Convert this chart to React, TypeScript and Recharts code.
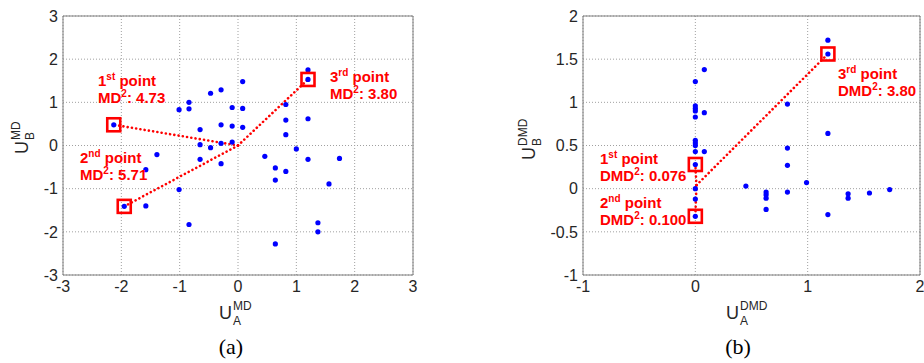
import React from 'react'
import {
  CartesianGrid,
  ReferenceArea,
  ReferenceLine,
  Scatter,
  ScatterChart,
  XAxis,
  YAxis,
} from 'recharts'

// (a) MD scores
const mdA = [
  -2.13, -1.01, -0.84, -0.84, -0.47, -0.29, -0.65, -0.29, -0.65, -0.47, -0.29, -0.65, -0.29, -1.39,
  -1.58, 0.08, -0.1, 0.08, -0.1, 0.08, -0.1, 0.82, 0.82, 0.82, 1.2, 1.2, 1.2, 1.0, 0.46, 1.2, 1.74,
  0.64, 0.82, 0.64, 1.56, 1.37, 1.37, 0.64, -1.01, -1.95, -1.58, -0.84,
]
const mdB = [
  0.48, 0.83, 1.0, 0.85, 1.21, 1.29, 0.37, 0.48, 0.02, -0.05, 0.05, -0.32, -0.42, -0.21, -0.56, 1.48,
  0.88, 0.86, 0.45, 0.42, 0.08, 0.95, 0.59, 0.25, 0.62, 1.75, 1.53, -0.08, -0.25, -0.32, -0.3, -0.52,
  -0.6, -0.8, -0.89, -1.79, -2.0, -2.28, -1.02, -1.41, -1.4, -1.83,
]
const mdPicked = [0, 39, 26]
const mdCentre = { x: 0, y: 0 }
const mdScores = ['4.73', '5.71', '3.80']
const mdTicks = [-3, -2, -1, 0, 1, 2, 3]

// (b) DMD scores
const dmdA = [
  0, 0.08, 0, 0, 0, 0, 0.08, 0, 0, 0, 0, 0.08, 0, 0.82, 0.82, 0.82, 1.18, 1.18, 1.18, 0, 0, 0, 0.45,
  0.63, 0.63, 0.63, 0.63, 0.82, 0.99, 1.18, 1.36, 1.36, 1.55, 1.73,
]
const dmdB = [
  1.24, 1.38, 0.96, 0.93, 0.9, 0.83, 0.88, 0.56, 0.53, 0.5, 0.43, 0.43, 0.28, 0.98, 0.47, 0.27, 1.72,
  1.56, 0.64, 0.0, -0.12, -0.32, 0.03, -0.04, -0.07, -0.11, -0.24, -0.04, 0.07, -0.3, -0.06, -0.11,
  -0.05, -0.01,
]
const dmdPicked = [12, 21, 17]
const dmdCentre = { x: 0.01, y: 0.04 }
const dmdScores = ['0.076', '0.100', '3.80']
const dmdXTicks = [-1, 0, 1, 2]
const dmdYTicks = [-1, -0.5, 0, 0.5, 1, 1.5, 2]

const ordinals = [
  ['1', 'st'],
  ['2', 'nd'],
  ['3', 'rd'],
]

const SANS = '"Liberation Sans", Arial, sans-serif'
const RED = '#ff0000'

const toPoints = (a: number[], b: number[]) => a.map((x, i) => ({ x, y: b[i] }))

const Dot = (p: any) => <circle cx={p.cx} cy={p.cy} r={2.6} fill="#0000ff" />
const Box = (p: any) => (
  <rect x={p.cx - 6.5} y={p.cy - 6.5} width={13} height={13} fill="none" stroke={RED} strokeWidth={2.6} />
)

interface PanelProps {
  left: number
  width: number
  yWidth: number
  rightGap: number
  a: number[]
  b: number[]
  picked: number[]
  centre: { x: number; y: number }
  xTicks: number[]
  yTicks: number[]
}

function Panel({ left, width, yWidth, rightGap, a, b, picked, centre, xTicks, yTicks }: PanelProps) {
  const pts = toPoints(a, b)
  const hi = picked.map((i) => pts[i])
  const xd: [number, number] = [xTicks[0], xTicks[xTicks.length - 1]]
  const yd: [number, number] = [yTicks[0], yTicks[yTicks.length - 1]]
  const tick = { fontSize: 16, fill: '#262626', fontFamily: SANS }
  return (
    <div style={{ position: 'absolute', left, top: 0 }}>
      <ScatterChart width={width} height={363} margin={{ top: 16, right: rightGap, bottom: 58, left: 0 }}>
        <CartesianGrid stroke="#a0a0a0" strokeDasharray="1 2" />
        <XAxis
          type="number"
          dataKey="x"
          domain={xd}
          ticks={xTicks}
          allowDataOverflow
          height={30}
          tick={tick}
          tickSize={0}
          tickMargin={6}
          axisLine={false}
          tickLine={false}
        />
        <YAxis
          type="number"
          dataKey="y"
          domain={yd}
          ticks={yTicks}
          allowDataOverflow
          width={yWidth}
          tick={tick}
          tickSize={0}
          tickMargin={5}
          axisLine={false}
          tickLine={false}
        />
        <ReferenceArea x1={xd[0]} x2={xd[1]} y1={yd[0]} y2={yd[1]} fill="none" stroke="#7f7f7f" strokeWidth={1} />
        <Scatter data={pts} shape={Dot} isAnimationActive={false} />
        {hi.map((p, i) => (
          <ReferenceLine
            key={i}
            segment={[centre, p]}
            stroke={RED}
            strokeWidth={2.6}
            strokeDasharray="0.1 4.2"
            strokeLinecap="round"
          />
        ))}
        <Scatter data={hi} shape={Box} isAnimationActive={false} />
      </ScatterChart>
    </div>
  )
}

function Note({ x, y, n, name, score }: { x: number; y: number; n: string[]; name: string; score: string }) {
  return (
    <text fill={RED} fontWeight="bold" fontSize={15} fontFamily={SANS}>
      <tspan x={x} y={y}>{n[0]}</tspan>
      <tspan dy={-6} fontSize={10}>{n[1]}</tspan>
      <tspan dy={6}>{' point'}</tspan>
      <tspan x={x} y={y + 17}>{name}</tspan>
      <tspan dy={-6} fontSize={10}>2</tspan>
      <tspan dy={6}>{': ' + score}</tspan>
    </text>
  )
}

function XTitle({ x, y, sup, sub }: { x: number; y: number; sup: string; sub: string }) {
  return (
    <g fontFamily={SANS} fill="#262626">
      <text x={x} y={y} fontSize={18}>U</text>
      <text x={x + 14} y={y - 9} fontSize={12}>{sup}</text>
      <text x={x + 14} y={y + 6} fontSize={12}>{sub}</text>
    </g>
  )
}

function YTitle({ x, y, sup, sub }: { x: number; y: number; sup: string; sub: string }) {
  return (
    <g fontFamily={SANS} fill="#262626" transform={`translate(${x},${y}) rotate(-90)`}>
      <text x={0} y={0} fontSize={18}>U</text>
      <text x={14} y={-8} fontSize={12}>{sup}</text>
      <text x={14} y={6} fontSize={12}>{sub}</text>
    </g>
  )
}

export default function App() {
  const mdNotes = [
    { x: 98, y: 86 },
    { x: 80, y: 163 },
    { x: 330, y: 82 },
  ]
  const dmdNotes = [
    { x: 600, y: 164 },
    { x: 600, y: 208 },
    { x: 838, y: 79 },
  ]
  return (
    <div style={{ position: 'absolute', left: 0, top: 0, width: 924, height: 363, background: '#fff', fontFamily: SANS }}>
      <Panel left={0} width={440} yWidth={63} rightGap={27} a={mdA} b={mdB} picked={mdPicked} centre={mdCentre} xTicks={mdTicks} yTicks={mdTicks} />
      <Panel left={480} width={444} yWidth={103} rightGap={4} a={dmdA} b={dmdB} picked={dmdPicked} centre={dmdCentre} xTicks={dmdXTicks} yTicks={dmdYTicks} />
      <svg width={924} height={363} style={{ position: 'absolute', left: 0, top: 0, pointerEvents: 'none' }}>
        {mdNotes.map((p, i) => (
          <Note key={i} x={p.x} y={p.y} n={ordinals[i]} name="MD" score={mdScores[i]} />
        ))}
        {dmdNotes.map((p, i) => (
          <Note key={i} x={p.x} y={p.y} n={ordinals[i]} name="DMD" score={dmdScores[i]} />
        ))}
        <XTitle x={219} y={319} sup="MD" sub="A" />
        <XTitle x={726} y={319} sup="DMD" sub="A" />
        <YTitle x={28} y={154} sup="MD" sub="B" />
        <YTitle x={535} y={160} sup="DMD" sub="B" />
        <text x={231} y={354} textAnchor="middle" fontSize={22} fontFamily='"Liberation Serif", "Times New Roman", serif' fill="#000">(a)</text>
        <text x={738} y={354} textAnchor="middle" fontSize={22} fontFamily='"Liberation Serif", "Times New Roman", serif' fill="#000">(b)</text>
      </svg>
    </div>
  )
}
